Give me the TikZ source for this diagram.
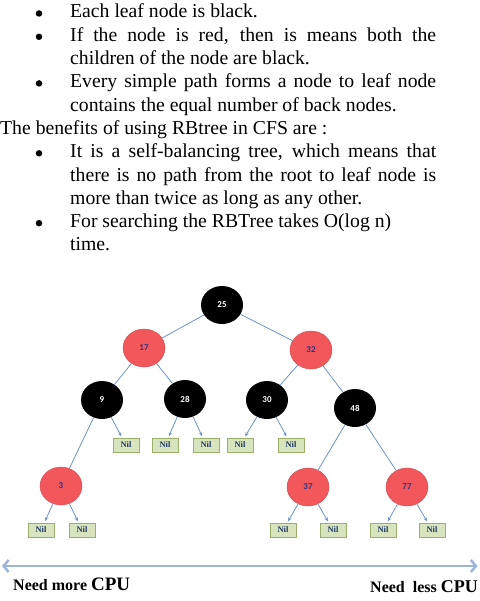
\documentclass[tikz,border=0pt]{standalone}
\usepackage{fontspec}
\setmainfont{Liberation Serif}
\newfontfamily\numfont{Carlito}
\usetikzlibrary{shapes.geometric,arrows.meta}
\definecolor{edgeblue}{HTML}{6F93C8}
\definecolor{nodered}{HTML}{F2575C}
\definecolor{nilfill}{HTML}{D7E4BD}
\definecolor{nilborder}{HTML}{9BB06A}
\definecolor{niltext}{HTML}{1F3864}
\definecolor{redtext}{HTML}{33337F}
\definecolor{arrowblue}{HTML}{9DB5DA}
\begin{document}
\begin{tikzpicture}[x=1pt,y=-1pt,
  blk/.style={ellipse,fill=black,minimum width=42pt,minimum height=38pt,inner sep=0pt,text=white,font=\numfont\bfseries\fontsize{9}{10}\selectfont},
  rd/.style={ellipse,fill=nodered,draw=nodered!85!black,line width=0.4pt,minimum width=42pt,minimum height=38pt,inner sep=0pt,text=redtext,font=\numfont\bfseries\fontsize{9}{10}\selectfont},
  nil/.style={rectangle,fill=nilfill,draw=nilborder,line width=0.8pt,minimum width=26pt,minimum height=14pt,inner sep=0pt,text=niltext,font=\bfseries\fontsize{8.5}{9}\selectfont},
  edge/.style={draw=edgeblue,line width=0.8pt},
  nilarrow/.style={edge,-{Stealth[length=4pt,width=3.5pt]},shorten >=1.5pt},
  txt/.style={anchor=base west,inner sep=0pt,font=\fontsize{19.7}{23.3}\selectfont},
  bul/.style={circle,fill=black,inner sep=0pt,minimum size=6.5pt},
  cpu/.style={anchor=base west,inner sep=0pt,font=\bfseries}
]
\useasboundingbox (0,0) rectangle (479,601);
\fill[white] (0,0) rectangle (479,601);

% text block
\node[bul] (b1) at (39,13.5) {};
\node[txt] (t1) at (70,18) {Each leaf node is black.};
\node[bul] (b2) at (39,36.8) {};
\node[txt] (t2) at (70,41.3) {\makebox[366pt][s]{If the node is red, then is means both the}};
\node[txt] (t3) at (70,64.6) {children of the node are black.};
\node[bul] (b3) at (39,83.4) {};
\node[txt] (t4) at (70,87.9) {\makebox[366pt][s]{Every simple path forms a node to leaf node}};
\node[txt] (t5) at (70,111.2) {contains the equal number of back nodes.};
\node[txt] (t6) at (0,134.5) {The benefits of using RBtree in CFS are :};
\node[bul] (b4) at (39,153.3) {};
\node[txt] (t7) at (70,157.8) {\makebox[366pt][s]{It is a self-balancing tree, which means that}};
\node[txt] (t8) at (70,181.1) {\makebox[366pt][s]{there is no path from the root to leaf node is}};
\node[txt] (t9) at (70,204.4) {more than twice as long as any other.};
\node[bul] (b5) at (39,223.2) {};
\node[txt] (t10) at (70,227.7) {For searching the RBTree takes O(log n)};
\node[txt] (t11) at (70,251) {time.};

% tree nodes
\node[blk] (n25) at (222,305) {25};
\node[rd]  (n17) at (144,348) {17};
\node[rd]  (n32) at (311,350) {32};
\node[blk] (n9)  at (102,400) {9};
\node[blk] (n28) at (185,399) {28};
\node[blk] (n30) at (267,400) {30};
\node[blk] (n48) at (355,408) {48};
\node[rd]  (n3)  at (61,486) {3};
\node[rd]  (n37) at (308,487) {37};
\node[rd]  (n77) at (407,487) {77};

\node[nil] (l1) at (126,445) {Nil};
\node[nil] (l2) at (165,445) {Nil};
\node[nil] (l3) at (206,445) {Nil};
\node[nil] (l4) at (240,445) {Nil};
\node[nil] (l5) at (291,445) {Nil};
\node[nil] (l6) at (41,530) {Nil};
\node[nil] (l7) at (82,530) {Nil};
\node[nil] (l8) at (283,530) {Nil};
\node[nil] (l9) at (333,530) {Nil};
\node[nil] (l10) at (383,530) {Nil};
\node[nil] (l11) at (432,530) {Nil};

% edges
\draw[edge] (n25) -- (n17);
\draw[edge] (n25) -- (n32);
\draw[edge] (n17) -- (n9);
\draw[edge] (n17) -- (n28);
\draw[edge] (n32) -- (n30);
\draw[edge] (n32) -- (n48);
\draw[edge] (n9) -- (n3);
\draw[edge] (n48) -- (n37);
\draw[edge] (n48) -- (n77);
\draw[nilarrow] (n9) -- (l1);
\draw[nilarrow] (n28) -- (l2);
\draw[nilarrow] (n28) -- (l3);
\draw[nilarrow] (n30) -- (l4);
\draw[nilarrow] (n30) -- (l5);
\draw[nilarrow] (n3) -- (l6);
\draw[nilarrow] (n3) -- (l7);
\draw[nilarrow] (n37) -- (l8);
\draw[nilarrow] (n37) -- (l9);
\draw[nilarrow] (n77) -- (l10);
\draw[nilarrow] (n77) -- (l11);

% CPU axis
\coordinate (al) at (2,566);
\coordinate (ar) at (477.5,566);
\draw[arrowblue,line width=2.5pt,{Straight Barb[length=5pt,width=12pt]}-{Straight Barb[length=5pt,width=12pt]}] (al) -- (ar);
\node[cpu] (more) at (13,590) {\fontsize{16}{18}\selectfont Need more \fontsize{19}{20}\selectfont CPU};
\node[cpu] (less) at (370,592.7) {\fontsize{16}{18}\selectfont Need\ \ less \fontsize{18}{20}\selectfont CPU};
\end{tikzpicture}
\end{document}
